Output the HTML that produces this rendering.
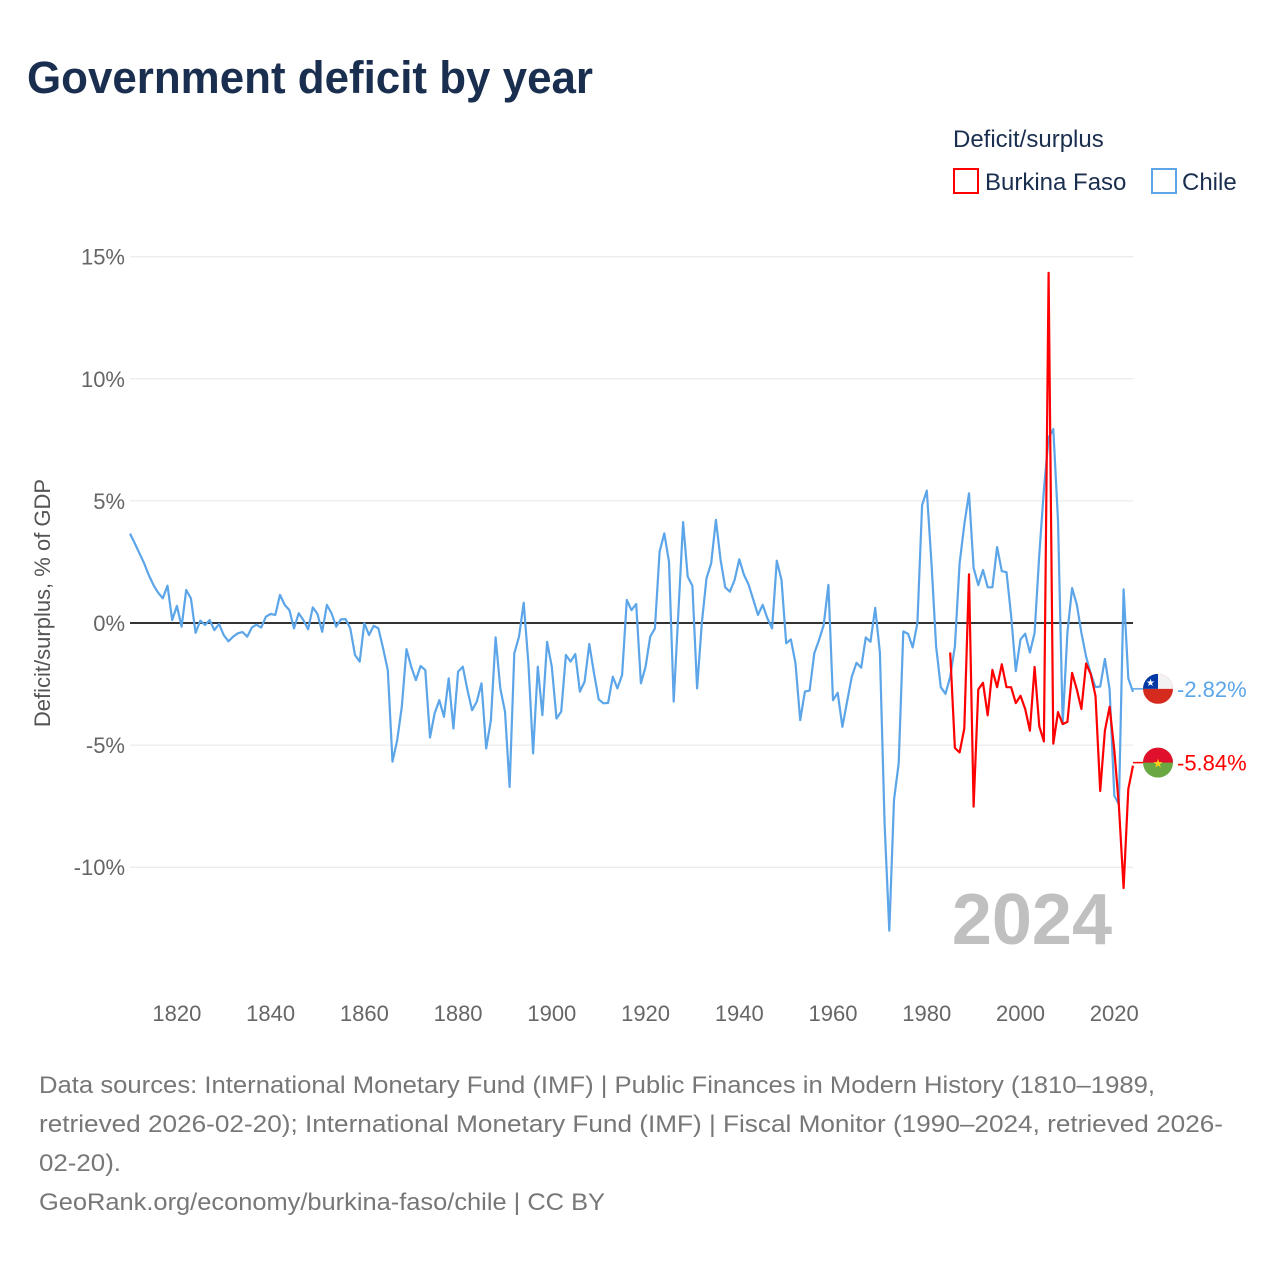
<!DOCTYPE html>
<html><head><meta charset="utf-8">
<style>
body{margin:0;background:#fff;font-family:"Liberation Sans",sans-serif;}
svg{display:block}
</style></head>
<body>
<svg id="chart" width="1280" height="1280" viewBox="0 0 1280 1280">
<text x="27" y="93" font-size="45" font-weight="bold" fill="#1a2f4f" textLength="566" lengthAdjust="spacingAndGlyphs">Government deficit by year</text>
<g>
<text x="953" y="147" font-size="24" fill="#1a2f4f">Deficit/surplus</text>
<g>
<rect x="954" y="169" width="24" height="24" fill="none" stroke="#ff0000" stroke-width="2"/>
<text x="985" y="190" font-size="24" fill="#1a2f4f">Burkina Faso</text></g>
<g>
<rect x="1152" y="169" width="24" height="24" fill="none" stroke="#5ba5e8" stroke-width="2"/>
<text x="1182" y="190" font-size="24" fill="#1a2f4f">Chile</text></g>
</g>
<g id="grid"></g>
<g id="yticks"></g>
<g id="xticks"></g>
<text transform="translate(50,603) rotate(-90)" text-anchor="middle" font-size="22" fill="#555">Deficit/surplus, % of GDP</text>
<text x="1112" y="944" text-anchor="end" font-size="72" font-weight="bold" fill="#c0c0c0">2024</text>
<g id="series"></g>
<g id="endlabels"></g>
<g font-size="24" fill="#777">
<text x="39" y="1093" textLength="1116" lengthAdjust="spacingAndGlyphs">Data sources: International Monetary Fund (IMF) | Public Finances in Modern History (1810–1989,</text>
<text x="39" y="1132" textLength="1184" lengthAdjust="spacingAndGlyphs">retrieved 2026-02-20); International Monetary Fund (IMF) | Fiscal Monitor (1990–2024, retrieved 2026-</text>
<text x="39" y="1171" textLength="82" lengthAdjust="spacingAndGlyphs">02-20).</text>
<text x="39" y="1210" textLength="566" lengthAdjust="spacingAndGlyphs">GeoRank.org/economy/burkina-faso/chile | CC BY</text>
</g>
</svg>
<script>
const chileStart = 1810;
const chileValues = [3.66,3.27,2.86,2.45,1.97,1.56,1.24,1.01,1.53,0.12,
0.70,-0.15,1.35,1.01,-0.40,0.10,-0.08,0.12,-0.29,-0.04,
-0.49,-0.75,-0.56,-0.42,-0.37,-0.56,-0.18,-0.07,-0.19,0.26,
0.37,0.33,1.15,0.74,0.53,-0.22,0.40,0.12,-0.26,0.64,
0.37,-0.36,0.74,0.40,-0.15,0.15,0.16,-0.22,-1.31,-1.58,
-0.01,-0.49,-0.12,-0.22,-1.04,-1.93,-5.68,-4.80,-3.43,-1.07,
-1.79,-2.34,-1.76,-1.93,-4.69,-3.70,-3.16,-3.84,-2.27,-4.32,
-1.99,-1.79,-2.75,-3.57,-3.22,-2.47,-5.14,-3.98,-0.59,-2.68,
-3.63,-6.71,-1.24,-0.56,0.83,-1.65,-5.34,-1.79,-3.77,-0.77,
-1.79,-3.91,-3.63,-1.31,-1.58,-1.27,-2.81,-2.40,-0.86,-2.06,
-3.13,-3.29,-3.27,-2.20,-2.68,-2.13,0.94,0.53,0.78,-2.47,
-1.79,-0.56,-0.22,2.92,3.67,2.51,-3.22,0.45,4.13,1.90,
1.52,-2.68,-0.01,1.83,2.45,4.22,2.58,1.46,1.28,1.76,
2.61,1.97,1.56,0.94,0.33,0.74,0.19,-0.22,2.55,1.76,
-0.83,-0.67,-1.65,-3.98,-2.81,-2.77,-1.24,-0.70,-0.08,1.56,
-3.16,-2.86,-4.25,-3.22,-2.20,-1.63,-1.83,-0.59,-0.77,0.62,
-1.21,-8.23,-12.6,-7.25,-5.74,-0.35,-0.44,-1.0,0.0,4.83,
5.42,2.44,-0.95,-2.63,-2.9,-2.2,-0.95,2.44,4.03,5.31,
2.26,1.55,2.17,1.46,1.46,3.11,2.12,2.08,0.31,-1.97,
-0.67,-0.44,-1.21,-0.40,2.8,5.46,7.59,7.94,4.2,-4.12,
-0.40,1.43,0.76,-0.40,-1.38,-2.08,-2.63,-2.6,-1.47,-2.72,
-7.07,-7.43,1.38,-2.27,-2.82];
const bfStart = 1985;
const bfValues = [-1.21,-5.12,-5.3,-4.32,1.99,-7.52,-2.72,-2.45,-3.78,-1.92,
-2.63,-1.69,-2.63,-2.63,-3.28,-2.98,-3.52,-4.41,-1.8,-4.23,
-4.85,14.34,-4.94,-3.65,-4.14,-4.05,-2.04,-2.72,-3.52,-1.66,
-2.1,-2.98,-6.88,-4.41,-3.43,-5.2,-7.5,-10.85,-6.8,-5.84];
const yTicks = [15,10,5,0,-5,-10];
const yTickLabels = ["15%","10%","5%","0%","-5%","-10%"];
const xTicks = [1820,1840,1860,1880,1900,1920,1940,1960,1980,2000,2020];

const NS="http://www.w3.org/2000/svg";
const X0=130, X1=1133, Y0=1810, Y1=2024;
function xs(yr){return X0+(yr-Y0)*(X1-X0)/(Y1-Y0);}
function ys(v){return 623-v*24.42;}
function mk(tag,attrs,parent){const e=document.createElementNS(NS,tag);for(const k in attrs)e.setAttribute(k,attrs[k]);parent.appendChild(e);return e;}
const grid=document.getElementById('grid'), yt=document.getElementById('yticks'), xt=document.getElementById('xticks');
yTicks.forEach((v,i)=>{
  if(v!==0){const l=mk('line',{x1:X0,x2:X1,y1:ys(v),y2:ys(v),stroke:'#e6e6e6','stroke-width':1},grid);
  
  }
  const t=mk('text',{x:125,y:ys(v)+8,'text-anchor':'end','font-size':22,fill:'#666'},yt);
  t.textContent=yTickLabels[i];
  
  
});
xTicks.forEach(yr=>{
  const t=mk('text',{x:xs(yr),y:1021,'text-anchor':'middle','font-size':22,fill:'#666'},xt);
  t.textContent=yr;
  
  
});
const zl=mk('line',{x1:X0,x2:X1,y1:ys(0),y2:ys(0),stroke:'#333','stroke-width':2},grid);


const ser=document.getElementById('series');
function pathFor(start,vals){return vals.map((v,i)=>(i?'L':'M')+xs(start+i).toFixed(1)+','+ys(v).toFixed(1)).join('');}
const pc=mk('path',{d:pathFor(chileStart,chileValues),fill:'none',stroke:'#5ba5e8','stroke-width':2.2,'stroke-linejoin':'round'},ser);


const pb=mk('path',{d:pathFor(bfStart,bfValues),fill:'none',stroke:'#ff0000','stroke-width':2.2,'stroke-linejoin':'round'},ser);


const el=document.getElementById('endlabels');
function endLabel(v,color,name,flag){
  const y=ys(v)-3, xe=xs(2024);
  mk('line',{x1:xe,x2:xe+12,y1:y,y2:y,stroke:color,'stroke-width':1.5},el);
  const g=mk('g',{},el);
  
  
  const cx=1158, r=15;
  const cp=mk('clipPath',{id:'c'+name},g);
  mk('circle',{cx:cx,cy:y,r:r},cp);
  const f=mk('g',{'clip-path':'url(#c'+name+')'},g);
  if(flag==='cl'){
    mk('rect',{x:cx-r,y:y-r,width:2*r,height:2*r,fill:'#d52b1e'},f);
    mk('rect',{x:cx-r,y:y-r,width:2*r,height:r,fill:'#f2f2f2'},f);
    mk('rect',{x:cx-r,y:y-r,width:r,height:r,fill:'#0039a6'},f);
    mk('text',{x:cx-r/2,y:y-3,'text-anchor':'middle','font-size':10,fill:'#fff'},f).textContent='★';
  } else {
    mk('rect',{x:cx-r,y:y-r,width:2*r,height:2*r,fill:'#6aa843'},f);
    mk('rect',{x:cx-r,y:y-r,width:2*r,height:r,fill:'#e0102c'},f);
    mk('text',{x:cx,y:y+5,'text-anchor':'middle','font-size':12,fill:'#fcd116'},f).textContent='★';
  }
  const t=mk('text',{x:1177,y:y+8,'font-size':22,fill:color},el);
  t.textContent=v.toFixed(2)+'%';
  
  
}
endLabel(chileValues[chileValues.length-1],'#5ba5e8','chile','cl');
endLabel(bfValues[bfValues.length-1],'#ff0000','burkina-faso','bf');
</script>
</body></html>
